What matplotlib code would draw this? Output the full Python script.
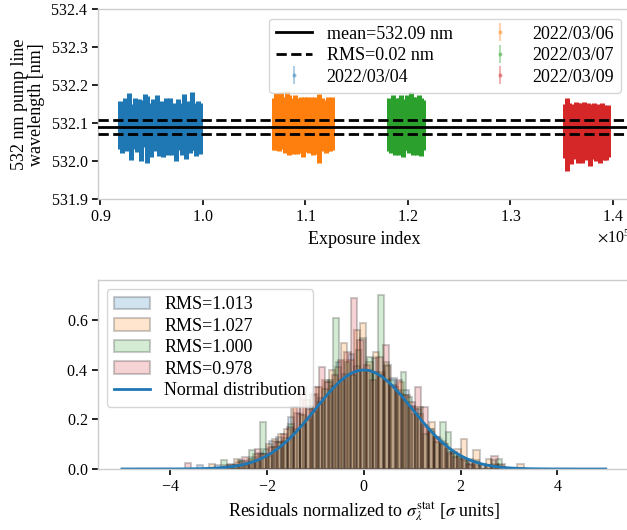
import matplotlib
matplotlib.use("Agg")
import matplotlib.pyplot as plt
import numpy as np

plt.rcParams["font.family"] = "serif"
plt.rcParams["font.serif"] = ["Liberation Serif", "DejaVu Serif"]
plt.rcParams["mathtext.fontset"] = "stix"
plt.rcParams["axes.formatter.use_mathtext"] = True

# ---- top panel: pump line wavelength per exposure, one block per night
nights = ["2022/03/04", "2022/03/06", "2022/03/07", "2022/03/09"]
night_colors = ["C0", "C1", "C2", "C3"]

expo_0304 = [91950, 92150, 92350, 92550, 92750, 92950, 93150, 93350, 93550, 93750,
             93950, 94150, 94350, 94550, 94750, 94950, 95150, 95350, 95550, 95750,
             95950, 96150, 96350, 96550, 96750, 96950, 97150, 97350, 97550, 97750,
             97950, 98150, 98350, 98550, 98750, 98950, 99150, 99350, 99550, 99750]
wl_0304 = [532.095, 532.082, 532.101, 532.088, 532.110, 532.076, 532.092, 532.104, 532.085, 532.097,
           532.071, 532.099, 532.112, 532.084, 532.093, 532.079, 532.105, 532.090, 532.118, 532.083,
           532.096, 532.074, 532.100, 532.089, 532.108, 532.081, 532.094, 532.068, 532.102, 532.091,
           532.086, 532.113, 532.078, 532.097, 532.087, 532.106, 532.092, 532.080, 532.099, 532.088]
err_0304 = [0.063, 0.059, 0.066, 0.061, 0.070, 0.073, 0.058, 0.064, 0.060, 0.067,
            0.071, 0.062, 0.065, 0.088, 0.061, 0.068, 0.060, 0.063, 0.057, 0.069,
            0.064, 0.061, 0.066, 0.072, 0.059, 0.065, 0.061, 0.067, 0.063, 0.060,
            0.068, 0.064, 0.071, 0.062, 0.065, 0.077, 0.061, 0.066, 0.059, 0.067]

expo_0306 = [106980, 107180, 107380, 107580, 107780, 107980, 108180, 108380, 108580, 108780,
             108980, 109180, 109380, 109580, 109780, 109980, 110180, 110380, 110580, 110780,
             110980, 111180, 111380, 111580, 111780, 111980, 112180, 112380, 112580]
wl_0306 = [532.098, 532.105, 532.092, 532.110, 532.101, 532.088, 532.115, 532.096, 532.103, 532.090,
           532.108, 532.094, 532.085, 532.100, 532.079, 532.097, 532.106, 532.091, 532.099, 532.083,
           532.102, 532.093, 532.087, 532.104, 532.095, 532.089, 532.098, 532.092, 532.100]
err_0306 = [0.068, 0.076, 0.064, 0.072, 0.069, 0.066, 0.070, 0.078, 0.065, 0.071,
            0.067, 0.074, 0.063, 0.069, 0.066, 0.072, 0.064, 0.068, 0.070, 0.065,
            0.067, 0.073, 0.090, 0.062, 0.068, 0.066, 0.071, 0.064, 0.069]

expo_0307 = [118130, 118330, 118530, 118730, 118930, 119130, 119330, 119530, 119730,
             119930, 120130, 120330, 120530, 120730, 120930, 121130, 121330, 121530]
wl_0307 = [532.098, 532.090, 532.104, 532.087, 532.100, 532.093, 532.108, 532.085, 532.097,
           532.102, 532.089, 532.111, 532.094, 532.099, 532.086, 532.106, 532.091, 532.096]
err_0307 = [0.070, 0.067, 0.072, 0.070, 0.068, 0.075, 0.066, 0.072, 0.067,
            0.073, 0.066, 0.071, 0.077, 0.070, 0.069, 0.069, 0.076, 0.067]

expo_0309 = [135370, 135570, 135770, 135970, 136170, 136370, 136570, 136770, 136970, 137170, 137370,
             137570, 137770, 137970, 138170, 138370, 138570, 138770, 138970, 139170, 139370, 139570]
wl_0309 = [532.080, 532.072, 532.085, 532.068, 532.078, 532.090, 532.075, 532.082, 532.070, 532.087, 532.077,
           532.083, 532.069, 532.079, 532.086, 532.074, 532.081, 532.071, 532.088, 532.076, 532.073, 532.080]
err_0309 = [0.070, 0.096, 0.068, 0.074, 0.072, 0.066, 0.078, 0.071, 0.075, 0.069, 0.073,
            0.070, 0.080, 0.072, 0.068, 0.074, 0.071, 0.076, 0.067, 0.073, 0.070, 0.069]

wl_mean = 532.091
wl_rms = 0.019

# ---- bottom panel: normalized residual histograms (density), one per night
rms_labels = ["RMS=1.013", "RMS=1.027", "RMS=1.000", "RMS=0.978"]
hist_ranges = [(-3.45, 2.80), (-3.20, 3.30), (-2.95, 2.85), (-3.70, 2.90)]
dens_0304 = [0.016, 0.0, 0.0, 0.016, 0.0, 0.016, 0.016, 0.032, 0.032, 0.048,
             0.064, 0.080, 0.112, 0.128, 0.112, 0.208, 0.224, 0.176, 0.256, 0.304,
             0.288, 0.352, 0.336, 0.432, 0.384, 0.464, 0.416, 0.528, 0.400, 0.448,
             0.384, 0.416, 0.368, 0.304, 0.320, 0.256, 0.240, 0.176, 0.160, 0.128,
             0.112, 0.080, 0.064, 0.048, 0.032, 0.032, 0.016, 0.016, 0.0, 0.016]
dens_0306 = [0.02, 0.0, 0.0, 0.02, 0.04, 0.02, 0.04, 0.06, 0.06, 0.10,
             0.12, 0.14, 0.16, 0.25, 0.22, 0.28, 0.30, 0.33, 0.36, 0.40,
             0.41, 0.51, 0.44, 0.56, 0.59, 0.43, 0.47, 0.39, 0.42, 0.33,
             0.35, 0.30, 0.25, 0.22, 0.17, 0.19, 0.12, 0.10, 0.06, 0.08,
             0.12, 0.04, 0.077, 0.02, 0.04, 0.02, 0.02, 0.0, 0.0, 0.02]
dens_0307 = [0.036, 0.0, 0.018, 0.036, 0.018, 0.077, 0.036, 0.19, 0.054, 0.09,
             0.108, 0.126, 0.18, 0.162, 0.216, 0.198, 0.23, 0.27, 0.324, 0.36,
             0.61, 0.36, 0.43, 0.38, 0.48, 0.40, 0.45, 0.39, 0.70, 0.43,
             0.36, 0.32, 0.39, 0.29, 0.22, 0.25, 0.14, 0.16, 0.11, 0.19,
             0.15, 0.07, 0.054, 0.036, 0.018, 0.036, 0.0, 0.018, 0.036, 0.04]
dens_0309 = [0.025, 0.0, 0.0, 0.0, 0.0, 0.0, 0.015, 0.0, 0.03, 0.05,
             0.03, 0.08, 0.06, 0.09, 0.11, 0.14, 0.17, 0.25, 0.33, 0.24,
             0.33, 0.41, 0.35, 0.38, 0.44, 0.47, 0.69, 0.52, 0.42, 0.36,
             0.45, 0.50, 0.34, 0.36, 0.30, 0.27, 0.33, 0.25, 0.15, 0.13,
             0.10, 0.07, 0.05, 0.04, 0.02, 0.03, 0.0, 0.015, 0.054, 0.015]


def style_axes(ax):
    for side in ["left", "right", "top", "bottom"]:
        ax.spines[side].set_color("#cccccc")
        ax.spines[side].set_linewidth(1.0)
    ax.tick_params(axis="both", which="major", direction="out", length=4,
                   width=1.2, color="black", labelsize=11.5, pad=3)
    ax.tick_params(top=False, right=False)


fig = plt.figure(figsize=(6.27, 5.30), dpi=100)
ax1 = fig.add_axes([0.1558, 0.6236, 0.849, 0.3585])
ax2 = fig.add_axes([0.1558, 0.1151, 0.849, 0.3566])

expos = [expo_0304, expo_0306, expo_0307, expo_0309]
wls = [wl_0304, wl_0306, wl_0307, wl_0309]
errs = [err_0304, err_0306, err_0307, err_0309]

for x, y, e, c in zip(expos, wls, errs, night_colors):
    ax1.errorbar(x, y, yerr=e, fmt=".", color=c, ms=3, elinewidth=3.6, capsize=0, zorder=2)

ax1.axhline(wl_mean, color="black", lw=2, zorder=3, label=f"mean={wl_mean:.2f} nm")
ax1.axhline(wl_mean + wl_rms, color="black", lw=2, ls="--", zorder=3,
            label=f"RMS={wl_rms:.2f} nm")
ax1.axhline(wl_mean - wl_rms, color="black", lw=2, ls="--", zorder=3)

# faint proxies so the legend looks like the original alpha errorbars
for name, c in zip(nights, night_colors):
    ax1.errorbar([], [], yerr=[], fmt=".", color=c, ms=4, alpha=0.35, label=name)

ax1.set_xlim(89730, 141690)
ax1.set_ylim(531.9, 532.4)
ax1.ticklabel_format(axis="x", style="sci", scilimits=(0, 0))
ax1.set_xlabel("Exposure index", fontsize=13)
ax1.set_ylabel("532 nm pump line\nwavelength [nm]", fontsize=13, linespacing=1.0)
style_axes(ax1)
ax1.xaxis.get_offset_text().set_fontsize(11.5)
ax1.legend(loc="upper right", ncol=2, fontsize=13, labelspacing=0.25,
           columnspacing=1.6, handletextpad=0.8, borderaxespad=0.5)

dens = [dens_0304, dens_0306, dens_0307, dens_0309]
for (lo, hi), h, c, lab in zip(hist_ranges, dens, night_colors, rms_labels):
    edges = np.linspace(lo, hi, len(h) + 1)
    ax2.bar(edges[:-1], h, width=np.diff(edges), align="edge", color=c,
            edgecolor="black", linewidth=1.5, alpha=0.2, label=lab)

xs = np.linspace(-5, 5, 500)
ax2.plot(xs, np.exp(-xs ** 2 / 2) / np.sqrt(2 * np.pi), color="C0", lw=2,
         label="Normal distribution")
ax2.set_xlim(-5.5, 5.5)
ax2.set_ylim(0, 0.762)
ax2.set_yticks([0.0, 0.2, 0.4, 0.6])
ax2.set_xlabel(r"Residuals normalized to $\sigma_\lambda^{\rm stat}$ [$\sigma$ units]", fontsize=13)
style_axes(ax2)
# histograms first, normal curve last, as in the original
handles, labels = ax2.get_legend_handles_labels()
handles = handles[1:] + handles[:1]
labels = labels[1:] + labels[:1]
ax2.legend(handles, labels, loc="upper left", fontsize=13, labelspacing=0.25,
           borderaxespad=0.5)

fig.savefig("out.png", dpi=100)
